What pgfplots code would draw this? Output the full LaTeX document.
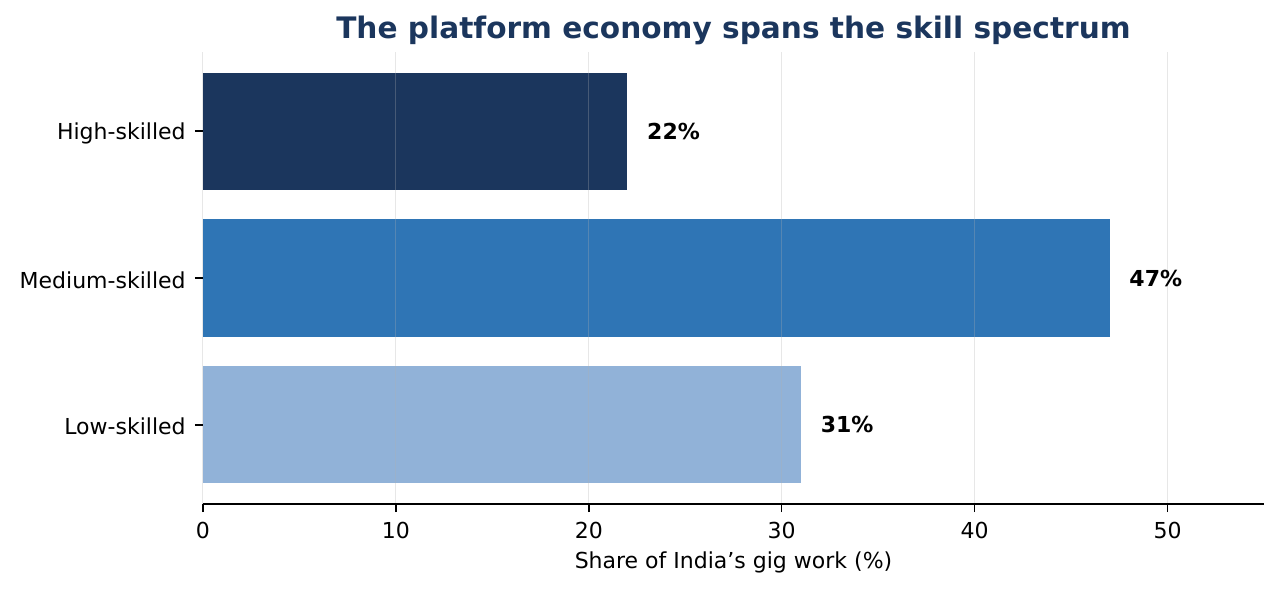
\documentclass[border=0pt]{standalone}
\usepackage{pgfplots}
\pgfplotsset{compat=1.18}
\usepackage{fontspec}
\setmainfont{DejaVu Sans}
\definecolor{cHigh}{RGB}{27,54,93}
\definecolor{cMed}{RGB}{47,117,181}
\definecolor{cLow}{RGB}{145,178,216}
\definecolor{cTitle}{RGB}{27,54,93}
\definecolor{cGrid}{RGB}{176,176,176}
\begin{document}
\begin{tikzpicture}
\useasboundingbox (-101.5pt,-43pt) rectangle (539.5pt,252pt);
\begin{axis}[
  at={(0,0)}, anchor=south west,
  scale only axis,
  width=530.5pt, height=226pt,
  xmin=0, xmax=55, ymin=-0.54, ymax=2.54,
  xbar, bar width=0.8, bar shift=0pt,
  axis lines*=left,
  y axis line style={draw=none},
  x axis line style={line width=0.75pt},
  axis on top,
  xtick={0,10,20,30,40,50},
  ytick={0,1,2},
  yticklabels={Low-skilled,Medium-skilled,High-skilled},
  tick align=outside,
  major tick length=4pt,
  tick style={black, line width=0.75pt},
  xmajorgrids,
  grid style={draw=cGrid, opacity=0.3, line width=0.5pt},
  /pgf/number format/assume math mode=true,
  ticklabel style={font=\fontsize{11}{13}\selectfont},
  yticklabel style={inner sep=0pt, xshift=-4.5pt, yshift=-1pt},
  xticklabel style={inner sep=0pt, yshift=-5pt},
  xlabel={Share of India’s gig work (\%)},
  xlabel style={font=\fontsize{11}{13}\selectfont, at={(axis description cs:0.5,0)}, anchor=base, yshift=-32pt, inner sep=0pt},
  title={The platform economy spans the skill spectrum},
  title style={font=\bfseries\fontsize{14.8}{17}\selectfont, color=cTitle, at={(axis description cs:0.5,1)}, anchor=base, yshift=0.5pt, inner sep=0pt},
  nodes near coords={\textbf{\pgfmathprintnumber{\pgfplotspointmeta}\%}},
  nodes near coords style={font=\fontsize{11}{13}\selectfont, anchor=west, inner sep=0pt, xshift=9.7pt, black},
  point meta=x,
]
\addplot[fill=cHigh, draw=none] coordinates {(22,2)};
\addplot[fill=cMed, draw=none] coordinates {(47,1)};
\addplot[fill=cLow, draw=none] coordinates {(31,0)};
\end{axis}
\end{tikzpicture}
\end{document}
